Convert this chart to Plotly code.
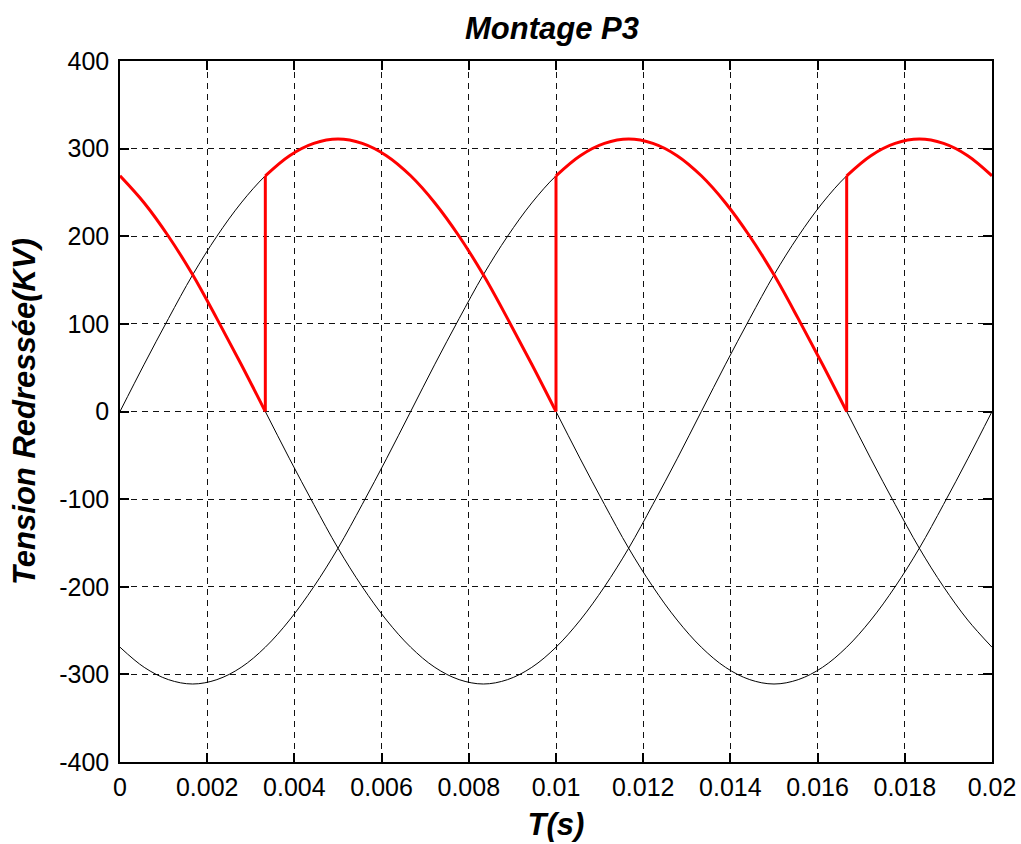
import plotly.graph_objects as go

# Time samples (s), 10-degree steps of a 50 Hz period
t = [0, 0.000556, 0.001111, 0.001667, 0.002222, 0.002778, 0.003333, 0.003889,
     0.004444, 0.005, 0.005556, 0.006111, 0.006667, 0.007222, 0.007778, 0.008333,
     0.008889, 0.009444, 0.01, 0.010556, 0.011111, 0.011667, 0.012222, 0.012778,
     0.013333, 0.013889, 0.014444, 0.015, 0.015556, 0.016111, 0.016667, 0.017222,
     0.017778, 0.018333, 0.018889, 0.019444, 0.02]

# Phase voltages (KV)
v1 = [0, 54, 106, 156, 200, 238, 269, 292, 306, 311, 306, 292, 269, 238, 200, 156,
      106, 54, 0, -54, -106, -156, -200, -238, -269, -292, -306, -311, -306, -292,
      -269, -238, -200, -156, -106, -54, 0]
v2 = [-269, -292, -306, -311, -306, -292, -269, -238, -200, -156, -106, -54, 0, 54,
      106, 156, 200, 238, 269, 292, 306, 311, 306, 292, 269, 238, 200, 156, 106, 54,
      0, -54, -106, -156, -200, -238, -269]
v3 = [269, 238, 200, 156, 106, 54, 0, -54, -106, -156, -200, -238, -269, -292, -306,
      -311, -306, -292, -269, -238, -200, -156, -106, -54, 0, 54, 106, 156, 200, 238,
      269, 292, 306, 311, 306, 292, 269]

# Rectified output: sample indices where the conducting phase switches, and phase order
switch_idx = [0, 6, 18, 30, 36]
phase_order = [v3, v1, v2, v3]

x_tickvals = [0, 0.002, 0.004, 0.006, 0.008, 0.01, 0.012, 0.014, 0.016, 0.018, 0.02]
x_ticktext = ["0", "0.002", "0.004", "0.006", "0.008", "0.01", "0.012", "0.014",
              "0.016", "0.018", "0.02"]
y_tickvals = [-400, -300, -200, -100, 0, 100, 200, 300, 400]
y_ticktext = ["-400", "-300", "-200", "-100", "0", "100", "200", "300", "400"]

FONT = "Liberation Sans, Arial, Helvetica, sans-serif"

fig = go.Figure()

for v in (v1, v2, v3):
    fig.add_trace(go.Scatter(x=t, y=v, mode="lines",
                             line=dict(color="black", width=1, shape="spline", smoothing=1),
                             showlegend=False, hoverinfo="skip"))

# red output: curved segments separated by gaps
rx, ry = [], []
for i, ph in enumerate(phase_order):
    a, b = switch_idx[i], switch_idx[i + 1]
    rx += t[a:b + 1] + [None]
    ry += ph[a:b + 1] + [None]
fig.add_trace(go.Scatter(x=rx, y=ry, mode="lines", connectgaps=False,
                         line=dict(color="#ff0000", width=3, shape="spline", smoothing=1),
                         showlegend=False, hoverinfo="skip"))

# vertical commutation jumps
jx, jy = [], []
for i in range(1, len(phase_order)):
    k = switch_idx[i]
    jx += [t[k], t[k], None]
    jy += [phase_order[i - 1][k], phase_order[i][k], None]
fig.add_trace(go.Scatter(x=jx, y=jy, mode="lines",
                         line=dict(color="#ff0000", width=3),
                         showlegend=False, hoverinfo="skip"))

axis_common = dict(
    showline=True, linecolor="black", linewidth=1.5, mirror="allticks",
    ticks="inside", ticklen=9, tickwidth=1.5, tickcolor="black",
    showgrid=True, gridcolor="#111111", gridwidth=1.2, griddash="6px,5px",
    zeroline=False, automargin=False,
    tickfont=dict(family=FONT, size=25, color="black"),
)

fig.update_layout(
    width=1021, height=844,
    margin=dict(l=120, r=29, t=61, b=82),
    paper_bgcolor="white", plot_bgcolor="white",
    title=dict(text="<b><i>Montage P3</i></b>", x=552 / 1021, xanchor="center",
               y=1 - 28 / 844, yanchor="middle", yref="container",
               font=dict(family=FONT, size=31, color="black")),
    xaxis=dict(range=[0, 0.02], tickvals=x_tickvals, ticktext=x_ticktext,
               ticklabelstandoff=2,
               title=dict(text="<b><i>T(s)</i></b>", standoff=14,
                          font=dict(family=FONT, size=31, color="black")),
               **axis_common),
    yaxis=dict(range=[-400, 400], tickvals=y_tickvals, ticktext=y_ticktext,
               ticklabelstandoff=4,
               title=dict(text="<b><i>Tension Redressée(KV)</i></b>", standoff=14,
                          font=dict(family=FONT, size=31, color="black")),
               **axis_common),
)

fig.write_html("out.html")
